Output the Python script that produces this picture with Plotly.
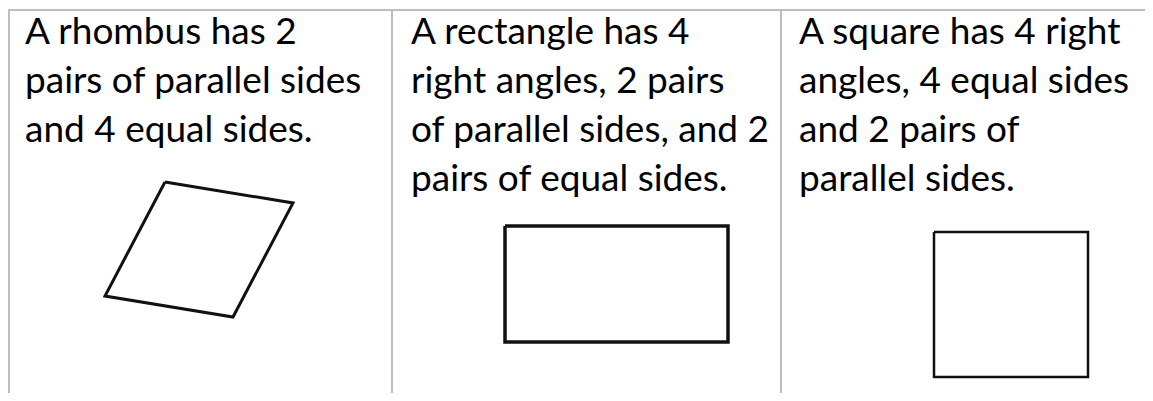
import plotly.graph_objects as go

# text of each cell, one entry per line as it wraps in the picture
cell_lines = [
    ["A rhombus has 2", "pairs of parallel sides", "and 4 equal sides."],
    ["A rectangle has 4", "right angles, 2 pairs", "of parallel sides, and 2", "pairs of equal sides."],
    ["A square has 4 right", "angles, 4 equal sides", "and 2 pairs of", "parallel sides."],
]

# outlines of the three shapes (closed paths)
rhombus_x = [165, 293, 233, 105, 165]
rhombus_y = [182, 203, 317, 296, 182]
rect_x = [505, 728, 728, 505, 505]
rect_y = [226, 226, 342, 342, 226]
square_x = [934, 1088, 1088, 934, 934]
square_y = [232, 232, 377, 377, 232]

# page has an 8px body margin, so the figure is offset and sized to fit
PAD = 8
W, H = 1153 - PAD, 401 - 2 * PAD
TOP = 11
LEFT = 2
col_edges = [392, 781]
text_left = [23, 409, 797]
first_base = 45
line_gap = 49
FONT = "Lato"
FSIZE = 37
GRID = "#bdbdbd"

fig = go.Figure()
for xs, ys, w in [(rhombus_x, rhombus_y, 3), (rect_x, rect_y, 3.5), (square_x, square_y, 2.5)]:
    fig.add_trace(go.Scatter(x=xs, y=ys, mode="lines",
                             line=dict(color="#111111", width=w),
                             hoverinfo="skip", showlegend=False))

for col, lines in enumerate(cell_lines):
    for i, txt in enumerate(lines):
        fig.add_annotation(x=text_left[col], y=first_base + i * line_gap - 0.43 * FSIZE,
                           text=txt, showarrow=False, xanchor="left", yanchor="middle",
                           font=dict(family=FONT, size=FSIZE, color="#000000"))

fig.update_layout(
    width=W, height=H,
    margin=dict(l=LEFT, r=0, t=TOP - PAD, b=0),
    paper_bgcolor="white", plot_bgcolor="white",
)
fig.update_xaxes(range=[PAD + LEFT, PAD + W], side="top", showline=True, linecolor=GRID, linewidth=2,
                 tickvals=col_edges, showticklabels=False, ticks="",
                 showgrid=True, gridcolor=GRID, gridwidth=2, zeroline=False)
fig.update_yaxes(range=[PAD + H, TOP], showgrid=False, showticklabels=False, ticks="",
                 zeroline=False, showline=True, linecolor=GRID, linewidth=2)

fig.write_html("out.html")
